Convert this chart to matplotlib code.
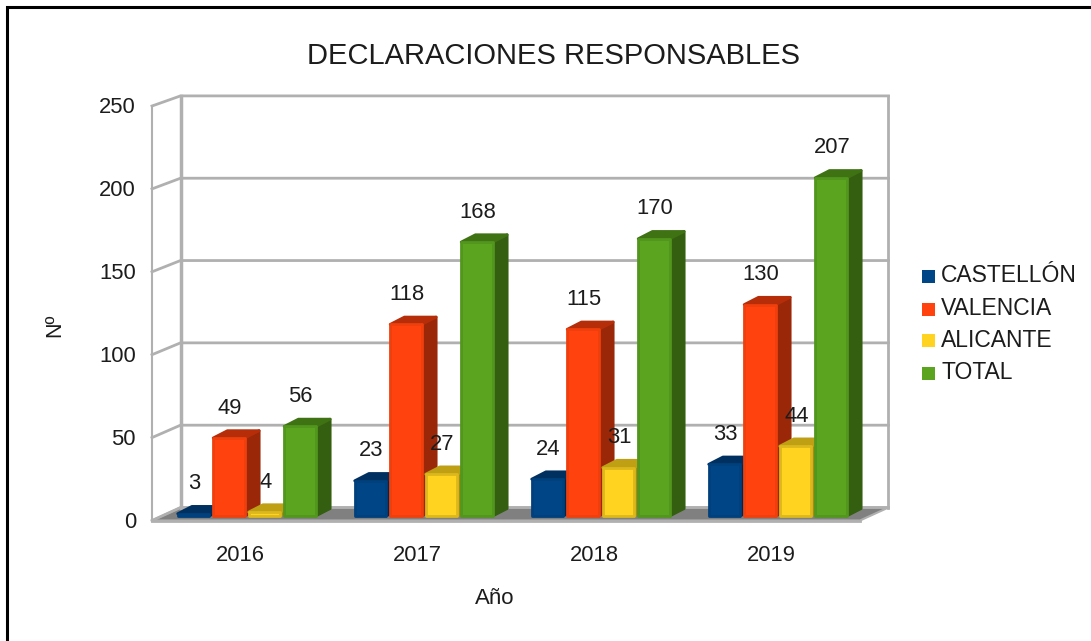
import matplotlib
matplotlib.use("Agg")
import matplotlib.pyplot as plt
from matplotlib.patches import Polygon, Rectangle
from matplotlib.lines import Line2D
import numpy as np

plt.rcParams['font.family'] = ['Liberation Sans', 'DejaVu Sans']

years = ['2016', '2017', '2018', '2019']
castellon = [3, 23, 24, 33]
valencia = [49, 118, 115, 130]
alicante = [4, 27, 31, 44]
total = [56, 168, 170, 207]
series_names = ['CASTELLÓN', 'VALENCIA', 'ALICANTE', 'TOTAL']
yticks = [0, 50, 100, 150, 200, 250]

series = [castellon, valencia, alicante, total]
front = ['#004586', '#ff420e', '#ffd320', '#5aa41f']
edge = ['#00407c', '#ee3f0d', '#dcb81c', '#52961d']
side = ['#00284f', '#992708', '#a88b10', '#345e10']
topc = ['#003060', '#b52e09', '#bf9f14', '#3f7213']
TXT = '#1c1c1c'

W, H = 1091, 641
fig = plt.figure(figsize=(W / 100, H / 100), dpi=100)
fig.patch.set_facecolor('white')
L, R, B, T = 152, 860, 520.5, 106
ax = fig.add_axes([L / W, 1 - B / H, (R - L) / W, (B - T) / H])
ax.set_xlim(0, 4)
ax.set_ylim(0, 250)
ax.axis('off')
sx = (R - L) / 4
sy = (B - T) / 250
DX, DY = 28.5 / sx, 13 / sy
BACK = 0.993  # the far plane is drawn slightly smaller than the near plane


def poly(pts, **kw):
    ax.add_patch(Polygon(pts, closed=True, clip_on=False, **kw))


grid = '#b0b0b0'
# floor
poly([(0, 0), (4, 0), (4 + DX, DY), (DX, DY)], fc='#808080', ec=grid, lw=1.5, zorder=1)
# walls and gridlines
for v in yticks:
    ax.plot([0, DX, 4 + DX], [v, v * BACK + DY, v * BACK + DY], color=grid, lw=2.0, clip_on=False,
            zorder=1, solid_joinstyle='round')
top_back = 250 * BACK + DY
ax.plot([0, 0], [0, 250], color=grid, lw=1.5, clip_on=False, zorder=1)
ax.plot([DX, DX], [DY, top_back], color=grid, lw=2.5, clip_on=False, zorder=1)
ax.plot([4 + DX, 4 + DX], [DY, top_back], color=grid, lw=2.0, clip_on=False, zorder=1)
ax.plot([0, 4], [0, 0], color=grid, lw=2.0, clip_on=False, zorder=2)

# bars
bw = 35.5 / sx
start = 24.3 / sx
ins_x, ins_y = 1.4 / sx, 1.4 / sy
zb = 3
for gi in range(4):
    for si, vals in enumerate(series):
        v = vals[gi]
        x0 = gi + start + si * bw
        y0 = 0.25 * DY
        x1 = x0 + bw - 1.0 / sx
        y1 = v * BACK + y0
        dx, dy = 0.5 * DX, 0.5 * DY + 0.8 / sy
        a, b = x0 + ins_x, x1 - ins_x
        c, d = y0 + ins_y, y1 - ins_y
        poly([(b, c), (b + dx, c + dy), (b + dx, d + dy), (b, d)],
             fc=side[si], ec=side[si], lw=2.0, joinstyle='round', zorder=zb)
        poly([(a, d), (b, d), (b + dx, d + dy), (a + dx, d + dy)],
             fc=topc[si], ec=topc[si], lw=2.0, joinstyle='round', zorder=zb)
        poly([(a, c), (b, c), (b, d), (a, d)],
             fc=front[si], ec=edge[si], lw=2.0, joinstyle='round', zorder=zb + 0.1)
        zb += 0.2
        ax.annotate(str(v), xy=(x0, y1), xytext=(18, 18), textcoords='offset pixels',
                    ha='center', va='bottom', fontsize=15.8, color=TXT, zorder=20,
                    annotation_clip=False)

# tick labels
for v in yticks:
    ax.annotate(str(v), xy=(0, v), xytext=(-16, -2), textcoords='offset pixels', ha='right',
                va='center', fontsize=15.8, color=TXT, annotation_clip=False)
for i, y in enumerate(years):
    ax.annotate(y, xy=(i + 0.5, 0), xytext=(0, -35), textcoords='offset pixels', ha='center',
                va='center', fontsize=15.8, color=TXT, annotation_clip=False)

fig.text(553.5 / W, 1 - 56 / H, 'DECLARACIONES RESPONSABLES', ha='center', va='center',
         fontsize=21, color=TXT)
fig.text(55 / W, 1 - 325 / H, 'Nº', rotation=90, ha='center', va='center', fontsize=15.5,
         color=TXT)
fig.text(494.5 / W, 1 - 599 / H, 'Año', ha='center', va='center', fontsize=16, color=TXT)

# legend
leg_y = [276, 309.5, 341, 373.5]
for name, col, yy in zip(series_names, front, leg_y):
    fig.patches.append(Rectangle((922 / W, 1 - (yy + 6.5) / H), 13 / W, 13 / H,
                                 transform=fig.transFigure, fc=col, ec='none'))
    fig.text(941 / W, 1 - (yy + 6) / H, name, ha='left', va='baseline', fontsize=16.5, color=TXT)

# frame: only the top and left edges of the picture carry a line
fig.add_artist(Line2D([6.5 / W, 6.5 / W, 1], [0, 1 - 6.5 / H, 1 - 6.5 / H],
                      transform=fig.transFigure, color='black', lw=2.2,
                      solid_joinstyle='miter'))
fig.savefig('out.png', dpi=100)
